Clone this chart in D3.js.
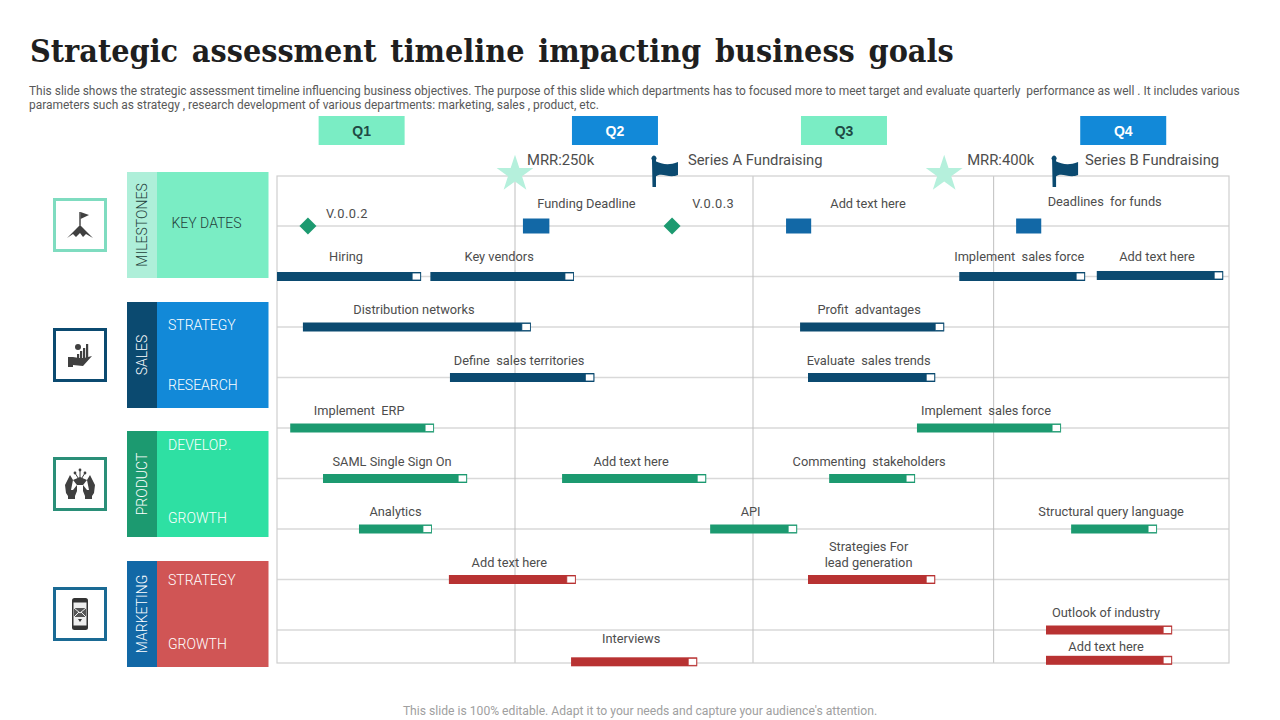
<!DOCTYPE html>
<html>
<head>
<meta charset="utf-8">
<script src="https://cdnjs.cloudflare.com/ajax/libs/d3/7.8.5/d3.min.js"></script>
<style>
html, body { margin: 0; padding: 0; background: #fff; }
svg { display: block; }
text { font-family: Roboto, "Liberation Sans", sans-serif; }
</style>
</head>
<body>
<div id="chart"></div>
<script>
var titleText = "Strategic assessment timeline impacting business goals";
var subtitleLines = [
    "This slide shows the strategic assessment timeline influencing business objectives. The purpose of this slide which departments has to focused more to meet target and evaluate quarterly  performance as well . It includes various",
    "parameters such as strategy , research development of various departments: marketing, sales , product, etc."
];
var footerText = "This slide is 100% editable. Adapt it to your needs and capture your audience's attention.";

var quarters = ["Q1", "Q2", "Q3", "Q4"];
var quarterMid = [32, 127.8, 214.4, 320];
var gridDays = [90, 180, 271];

var groupNames = ["MILESTONES", "SALES", "PRODUCT", "MARKETING"];
var groupItems = [["KEY DATES"], ["STRATEGY", "RESEARCH"], ["DEVELOP..", "GROWTH"], ["STRATEGY", "GROWTH"]];
var groupIcons = ["peak", "hand", "hands", "phone"];

// label, row, start day, end day
var salesTasks = [
    ["Hiring", 1, 0, 54.5],
    ["Key vendors", 1, 58, 112.3],
    ["Implement  sales force", 1, 258, 305.6],
    ["Add text here", 0.98, 310, 357.8],
    ["Distribution networks", 2, 9.8, 96],
    ["Profit  advantages", 2, 197.8, 252.3],
    ["Define  sales territories", 3, 65.4, 120],
    ["Evaluate  sales trends", 3, 200.8, 248.9]
];
var productTasks = [
    ["Implement  ERP", 4, 5, 59.4],
    ["Implement  sales force", 4, 242, 296.5],
    ["SAML Single Sign On", 5, 17.4, 71.9],
    ["Add text here", 5, 107.8, 162.3],
    ["Commenting  stakeholders", 5, 208.8, 241.3],
    ["Analytics", 6, 31, 58.6],
    ["API", 6, 163.8, 196.7],
    ["Structural query language", 6, 300.3, 332.8]
];
var marketingTasks = [
    ["Add text here", 7, 65, 113],
    ["Strategies For\nlead generation", 7, 200.8, 248.9],
    ["Outlook of industry", 8, 290.8, 338.5],
    ["Interviews", 8.63, 111.2, 158.9],
    ["Add text here", 8.6, 290.8, 338.5]
];

// label, day of marker, day of label centre
var versions = [["V.0.0.2", 11.7, 26.5], ["V.0.0.3", 149.4, 165]];
var deadlines = [
    ["Funding Deadline", 93, 103, 117],
    ["Add text here", 192.5, 202, 223.5],
    ["Deadlines  for funds", 279.5, 289, 313]
];
var mrrMarks = [["MRR:250k", 90], ["MRR:400k", 252.3]];
var fundingMarks = [["Series A Fundraising", 141.8], ["Series B Fundraising", 293.1]];

var width = 1280, height = 720;
var plot = { left: 277, right: 1229, top: 176, bottom: 663 };
var green = "#1c9a70", navy = "#0b4a70", blue = "#1289d8", mint = "#7aedc4", red = "#b83232", midBlue = "#1268a6";
var inkColor = "#404040", labelColor = "#4d4d4d";

var svg = d3.select("#chart").append("svg")
    .attr("width", width)
    .attr("height", height);

var x = d3.scaleLinear().domain([0, 360]).range([plot.left, plot.right]);
var y = d3.scaleLinear().domain([0, 8]).range([226, 630]);

// title block
svg.append("text")
    .attr("x", 30).attr("y", 62)
    .attr("fill", "#1f1f1f")
    .style("font-family", "'DejaVu Serif Condensed'")
    .style("font-weight", "bold")
    .style("font-size", "32px")
    .style("word-spacing", "3.7px")
    .text(titleText);

svg.selectAll(".subtitle").data(subtitleLines).enter()
    .append("text")
    .attr("class", "subtitle")
    .attr("x", 29)
    .attr("y", function (d, i) { return 95 + i * 14; })
    .attr("fill", "#595959")
    .style("font-size", "11.94px")
    .style("white-space", "pre")
    .text(function (d) { return d; });

svg.append("text")
    .attr("x", 640).attr("y", 715)
    .attr("text-anchor", "middle")
    .attr("fill", "#a0a0a0")
    .style("font-size", "12.15px")
    .text(footerText);

// quarter headers
var quarterColors = [mint, blue, mint, blue];
var quarterG = svg.selectAll(".quarter").data(quarters).enter()
    .append("g")
    .attr("class", "quarter")
    .attr("transform", function (d, i) { return "translate(" + x(quarterMid[i]) + ",130.5)"; });
quarterG.append("rect")
    .attr("x", -43).attr("y", -14.5)
    .attr("width", 86).attr("height", 29)
    .attr("fill", function (d, i) { return quarterColors[i]; });
quarterG.append("text")
    .attr("text-anchor", "middle")
    .attr("y", 5)
    .attr("fill", function (d, i) { return i % 2 ? "#fff" : "#1f4a44"; })
    .style("font-family", "'Liberation Sans'")
    .style("font-weight", "bold")
    .style("font-size", "14px")
    .text(function (d) { return d; });

// left panels
var panelTop = [172, 302, 431, 561];
var stripColors = ["#aeefd9", navy, green, midBlue];
var boxColors = [mint, blue, "#2ee0a3", "#d05555"];
var iconBorders = ["#7fdcc0", navy, "#2a8f78", "#1a6a94"];
var iconTop = [198, 328, 457, 587];

var panel = svg.selectAll(".panel").data(groupNames).enter()
    .append("g")
    .attr("class", "panel")
    .attr("transform", function (d, i) { return "translate(0," + panelTop[i] + ")"; });
panel.append("rect")
    .attr("x", 127).attr("width", 30).attr("height", 106)
    .attr("fill", function (d, i) { return stripColors[i]; });
panel.append("rect")
    .attr("x", 157).attr("width", 111.5).attr("height", 106)
    .attr("fill", function (d, i) { return boxColors[i]; });
panel.append("text")
    .attr("transform", "translate(147,53) rotate(-90)")
    .attr("text-anchor", "middle")
    .attr("fill", function (d, i) { return i == 0 ? "#24403b" : "#fff"; })
    .style("font-size", "14px")
    .style("font-weight", 300)
    .text(function (d) { return d; });

panel.each(function (d, i) {
    var items = groupItems[i];
    d3.select(this).selectAll(".item").data(items).enter()
        .append("text")
        .attr("class", "item")
        .attr("x", i == 0 ? 171.5 : 168)
        .attr("y", function (e, j) {
            if (i == 0) return 56;
            if (i == 1) return j == 0 ? 28 : 88;
            if (i == 2) return j == 0 ? 19 : 92;
            return j == 0 ? 24 : 88;
        })
        .attr("fill", i == 0 ? "#24403b" : "#fff")
        .style("font-size", "14px")
        .style("font-weight", 300)
        .text(function (e) { return e; });
});

// icon boxes
var icon = svg.selectAll(".icon").data(groupIcons).enter()
    .append("g")
    .attr("class", "icon")
    .attr("transform", function (d, i) { return "translate(80," + (iconTop[i] + 27) + ")"; });
icon.append("rect")
    .attr("x", -25.5).attr("y", -25.5)
    .attr("width", 51).attr("height", 51)
    .attr("fill", "#fff")
    .attr("stroke", function (d, i) { return iconBorders[i]; })
    .attr("stroke-width", 3);
icon.each(function (d) {
    var g = d3.select(this);
    if (d == "peak") {
        g.append("path").attr("fill", inkColor).attr("d", "M-13,13L-3,3L-1,1L1,1L3,3L13,13L6,9L3,12L0,8L-4,12L-7,9Z");
        g.append("rect").attr("x", -0.7).attr("y", -13).attr("width", 1.4).attr("height", 14).attr("fill", inkColor);
        g.append("path").attr("fill", inkColor).attr("d", "M0.5,-13L9,-10L0.5,-6Z");
    } else if (d == "hand") {
        g.append("path").attr("fill", inkColor).attr("d", "M-12,2H-7L-1,3H4L12,1L3,11L-7,10V12H-12Z");
        [[-3, 4], [0, 7], [3, 10], [6, 14]].forEach(function (b) {
            g.append("rect").attr("x", b[0]).attr("y", 3 - b[1]).attr("width", 2.2).attr("height", b[1]).attr("fill", inkColor);
        });
        g.append("circle").attr("cx", -2).attr("cy", -8).attr("r", 3).attr("fill", inkColor);
    } else if (d == "hands") {
        [-1, 1].forEach(function (s) {
            g.append("path").attr("fill", inkColor)
                .attr("transform", "scale(" + s + ",1)")
                .attr("d", "M5,15V12L3,7L3,1L7,6L9,6L7,-4L10,-9L15,1L14,9L12,12V15Z");
        });
        g.append("path").attr("fill", inkColor).attr("d", "M-7,-4L0,-7L7,-4L3,1H-3Z");
        [[-5, -11], [0, -14], [5, -11]].forEach(function (c) {
            g.append("circle").attr("cx", c[0]).attr("cy", c[1]).attr("r", 1.4).attr("fill", inkColor);
            g.append("line").attr("x1", 0).attr("y1", -3).attr("x2", c[0]).attr("y2", c[1]).attr("stroke", inkColor);
        });
    } else {
        g.append("rect").attr("x", -8).attr("y", -16).attr("width", 16).attr("height", 32).attr("rx", 2.5).attr("fill", "#333");
        g.append("rect").attr("x", -6.5).attr("y", -11.5).attr("width", 13).attr("height", 23).attr("fill", "#eee");
        g.append("rect").attr("x", -6).attr("y", -6).attr("width", 12).attr("height", 9).attr("fill", "#555");
        g.append("path").attr("fill", "none").attr("stroke", "#eee").attr("d", "M-6,-6L0,-1L6,-6M-6,3L-1,-2M6,3L1,-2");
        g.append("path").attr("fill", "#333").attr("d", "M-2,5H2L0,8Z");
    }
});

// grid
svg.selectAll(".rowLine").data(d3.range(0, 9)).enter()
    .append("line")
    .attr("class", "rowLine")
    .attr("x1", plot.left).attr("x2", plot.right)
    .attr("y1", function (d) { return y(d); })
    .attr("y2", function (d) { return y(d); })
    .attr("stroke", "#d9d9d9")
    .attr("stroke-width", 1.5);
svg.selectAll(".colLine").data(gridDays).enter()
    .append("line")
    .attr("class", "colLine")
    .attr("x1", function (d) { return x(d); })
    .attr("x2", function (d) { return x(d); })
    .attr("y1", plot.top).attr("y2", plot.bottom)
    .attr("stroke", "#bfbfbf");
svg.append("rect")
    .attr("x", plot.left).attr("y", plot.top)
    .attr("width", plot.right - plot.left)
    .attr("height", plot.bottom - plot.top)
    .attr("fill", "none")
    .attr("stroke", "#cfcfcf")
    .attr("stroke-width", 1.2);

// label sits higher or lower than usual on a few rows
function labelGap(d) {
    if (d[0] == "Interviews") return 19;
    if (d[1] == 8.6) return 9;
    if (d[1] == 1) return 16;
    if (d[1] == 0.98) return 14;
    return 13;
}

// task bars
function drawTasks(tasks, color) {
    var barH = 9, squareW = 9;
    var task = svg.selectAll(null).data(tasks).enter().append("g");
    task.append("rect")
        .attr("x", function (d) { return x(d[2]); })
        .attr("y", function (d) { return y(d[1]) - barH / 2; })
        .attr("width", function (d) { return x(d[3]) - x(d[2]); })
        .attr("height", barH)
        .attr("fill", color);
    task.append("rect")
        .attr("x", function (d) { return x(d[3]) - squareW; })
        .attr("y", function (d) { return y(d[1]) - barH / 2 + 1; })
        .attr("width", squareW - 0.5)
        .attr("height", barH - 2)
        .attr("fill", "#fff")
        .attr("stroke", color)
        .attr("stroke-width", 0.8);
    task.each(function (d) {
        var lines = d[0].split("\n");
        var mid = (x(d[2]) + x(d[3])) / 2 - (d[0] == "Analytics" ? 0 : 3);
        var base = y(d[1]) - labelGap(d);
        d3.select(this).selectAll("text").data(lines).enter()
            .append("text")
            .attr("x", mid)
            .attr("y", function (e, j) { return base - (lines.length - 1 - j) * 16; })
            .attr("text-anchor", "middle")
            .attr("fill", labelColor)
            .style("font-size", "12.8px")
            .style("white-space", "pre")
            .text(function (e) { return e; });
    });
}
drawTasks(salesTasks, navy);
drawTasks(productTasks, green);
drawTasks(marketingTasks, red);

// milestone row
var diamond = d3.symbol().type(d3.symbolSquare).size(144);
svg.selectAll(".version").data(versions).enter()
    .append("path")
    .attr("class", "version")
    .attr("d", diamond)
    .attr("transform", function (d) { return "translate(" + x(d[1]) + "," + y(0) + ") rotate(45)"; })
    .attr("fill", green);
svg.selectAll(".versionLabel").data(versions).enter()
    .append("text")
    .attr("class", "versionLabel")
    .attr("x", function (d) { return x(d[2]); })
    .attr("y", function (d, i) { return i == 0 ? 218 : 208; })
    .attr("text-anchor", "middle")
    .attr("fill", labelColor)
    .style("font-size", "12.8px")
    .style("letter-spacing", "0.5px")
    .text(function (d) { return d[0]; });

svg.selectAll(".deadline").data(deadlines).enter()
    .append("rect")
    .attr("class", "deadline")
    .attr("x", function (d) { return x(d[1]); })
    .attr("y", y(0) - 7.5)
    .attr("width", function (d) { return x(d[2]) - x(d[1]); })
    .attr("height", 15)
    .attr("fill", midBlue);
svg.selectAll(".deadlineLabel").data(deadlines).enter()
    .append("text")
    .attr("class", "deadlineLabel")
    .attr("x", function (d) { return x(d[3]); })
    .attr("y", function (d, i) { return i == 2 ? 206 : 208; })
    .attr("text-anchor", "middle")
    .attr("fill", labelColor)
    .style("font-size", "12.8px")
    .style("white-space", "pre")
    .text(function (d) { return d[0]; });

// stars and flags above the frame
var star = d3.symbol().type(d3.symbolStar).size(420);
svg.selectAll(".mrr").data(mrrMarks).enter()
    .append("path")
    .attr("class", "mrr")
    .attr("d", star)
    .attr("transform", function (d) { return "translate(" + x(d[1]) + ",174)"; })
    .attr("fill", "#b5f0dc");
svg.selectAll(".mrrLabel").data(mrrMarks).enter()
    .append("text")
    .attr("class", "mrrLabel")
    .attr("x", function (d, i) { return x(d[1]) + (i == 0 ? 12 : 23); })
    .attr("y", 165)
    .attr("fill", labelColor)
    .style("font-size", "14.8px")
    .text(function (d) { return d[0]; });

var flag = svg.selectAll(".flag").data(fundingMarks).enter()
    .append("g")
    .attr("class", "flag")
    .attr("transform", function (d) { return "translate(" + x(d[1]) + ",156)"; });
flag.append("path")
    .attr("fill", navy)
    .attr("d", "M0,4A2.6,2.6 0 1 1 4,4V31H0.5Z");
flag.append("path")
    .attr("fill", navy)
    .attr("d", "M3,5C10,8 16,10 26,6V19C16,23 10,15 3,21Z");
flag.append("text")
    .attr("x", function (d, i) { return i == 0 ? 36 : 33; })
    .attr("y", 9)
    .attr("fill", labelColor)
    .style("font-size", "14.8px")
    .text(function (d) { return d[0]; });
</script>
</body>
</html>
